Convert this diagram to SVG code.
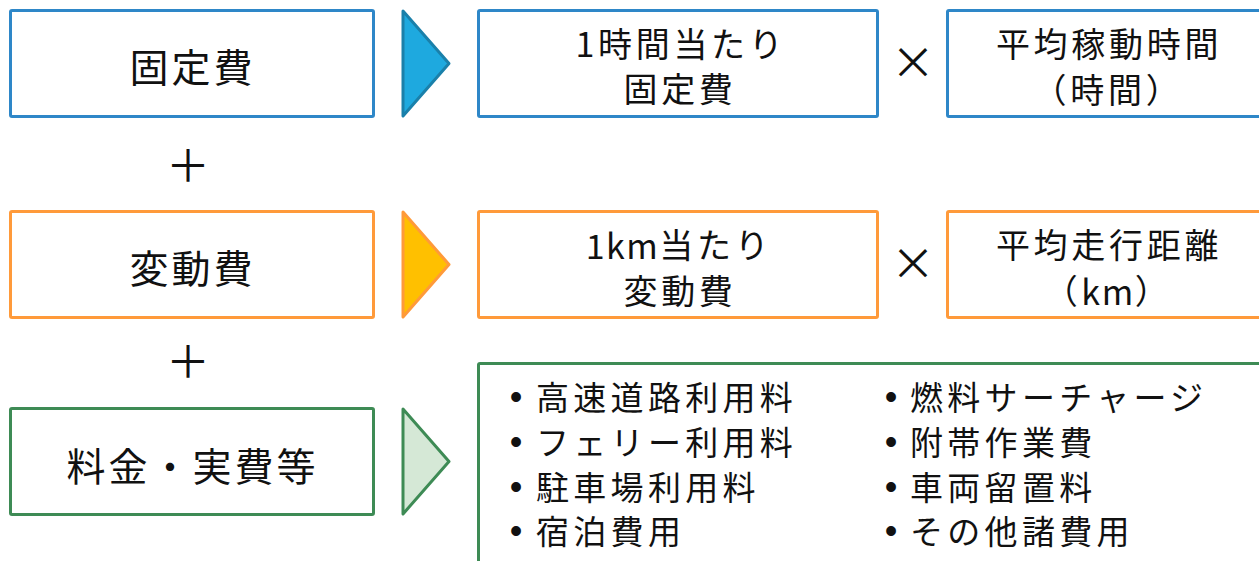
<svg xmlns="http://www.w3.org/2000/svg" width="1259" height="561" viewBox="0 0 1259 561">
<style>
.bg{fill:#ffffff}
.box{fill:#ffffff;stroke-width:3}
.blue{stroke:#2E87C8}
.orange{stroke:#FF9A3A}
.green{stroke:#3E8B55}
.t{font-family:"Noto Sans CJK JP","Noto Sans",sans-serif;fill:#111111;dominant-baseline:central;text-anchor:middle}
.big{font-size:39px;letter-spacing:3px}
.mid{font-size:34px;letter-spacing:3.7px}
.lat{letter-spacing:1.5px}
.lst{font-family:"Noto Sans CJK JP","Noto Sans",sans-serif;fill:#111111;dominant-baseline:central;font-size:33px;letter-spacing:4.3px}
.dot{font-family:"Liberation Sans",sans-serif;fill:#111111;dominant-baseline:central;text-anchor:middle;font-size:36px}
.op{font-family:"Noto Sans CJK JP",sans-serif;fill:#111111;dominant-baseline:central;text-anchor:middle;font-size:44px}
.arr{stroke-width:3;stroke-linejoin:round}
</style>
<rect class="bg" x="0" y="0" width="1259" height="561"/>

<g id="connectors">
  <polygon class="arr" points="403,11 449,63.5 403,116" fill="#1EA9DF" stroke="#1A80AA"/>
  <polygon class="arr" points="403,212 449,264.5 403,317" fill="#FFC000" stroke="#FF9A3A"/>
  <polygon class="arr" points="403,409 449,461.5 403,514" fill="#D5E8D6" stroke="#3E8B55"/>
</g>

<g id="fixed-cost">
  <rect class="box blue" x="10.5" y="10.5" width="363" height="106" rx="1.5"/>
  <text class="t big" x="192.5" y="64.5">固定費</text>
</g>
<g id="fixed-per-hour">
  <rect class="box blue" x="478.5" y="10.5" width="399" height="106" rx="1.5"/>
  <text class="t mid" x="681" y="42">1時間当たり</text>
  <text class="t mid" x="680" y="87.5">固定費</text>
</g>
<g id="times-1">
  <text class="op" x="913" y="60">×</text>
</g>
<g id="avg-hours">
  <rect class="box blue" x="947.5" y="10.5" width="330" height="106" rx="1.5"/>
  <text class="t mid" x="1109" y="42.5">平均稼動時間</text>
  <text class="t mid" x="1108" y="88">（時間）</text>
</g>

<g id="plus-1">
  <text class="op" x="188" y="163">＋</text>
</g>

<g id="variable-cost">
  <rect class="box orange" x="10.5" y="211.5" width="363" height="106" rx="1.5"/>
  <text class="t big" x="192.5" y="265.5">変動費</text>
</g>
<g id="variable-per-km">
  <rect class="box orange" x="478.5" y="211.5" width="399" height="106" rx="1.5"/>
  <text class="t mid" x="679" y="243.5"><tspan class="lat">1km</tspan>当たり</text>
  <text class="t mid" x="680" y="289.5">変動費</text>
</g>
<g id="times-2">
  <text class="op" x="913" y="261">×</text>
</g>
<g id="avg-distance">
  <rect class="box orange" x="947.5" y="211.5" width="330" height="106" rx="1.5"/>
  <text class="t mid" x="1109" y="243.5">平均走行距離</text>
  <text class="t mid" x="1108" y="289.5">（<tspan class="lat">km</tspan>）</text>
</g>

<g id="plus-2">
  <text class="op" x="188" y="359">＋</text>
</g>

<g id="fees">
  <rect class="box green" x="10.5" y="408.5" width="363" height="106" rx="1.5"/>
  <text class="t big" x="192.5" y="463.5">料金・実費等</text>
</g>
<g id="fee-list">
  <rect class="box green" x="478.5" y="363.5" width="800" height="220" rx="1.5"/>
  <text class="dot" x="516" y="396">•</text>
  <text class="lst" x="536" y="395.5">高速道路利用料</text>
  <text class="dot" x="516" y="441">•</text>
  <text class="lst" x="536" y="440.5">フェリー利用料</text>
  <text class="dot" x="516" y="486">•</text>
  <text class="lst" x="536" y="485.5">駐車場利用料</text>
  <text class="dot" x="516" y="530">•</text>
  <text class="lst" x="536" y="530">宿泊費用</text>
  <text class="dot" x="891" y="396">•</text>
  <text class="lst" x="910" y="395.5">燃料サーチャージ</text>
  <text class="dot" x="891" y="441">•</text>
  <text class="lst" x="910" y="440.5">附帯作業費</text>
  <text class="dot" x="891" y="486">•</text>
  <text class="lst" x="910" y="485.5">車両留置料</text>
  <text class="dot" x="891" y="530">•</text>
  <text class="lst" x="910" y="530">その他諸費用</text>
</g>
</svg>
